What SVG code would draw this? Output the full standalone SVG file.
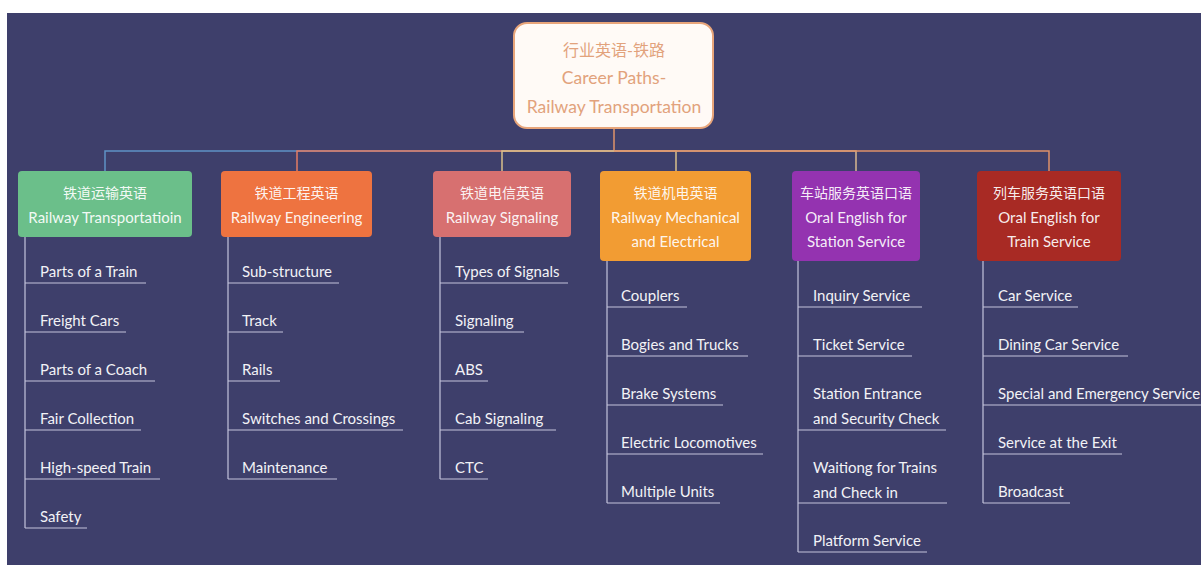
<svg xmlns="http://www.w3.org/2000/svg" width="1201" height="565" viewBox="0 0 1201 565">
<style>
  text { font-family: Lato, "Noto Sans CJK SC", sans-serif; }
  .root-t { font-size: 17.5px; fill: #e2a27c; text-anchor: middle; }
  .root-cn { font-size: 16px; }
  .br-t { font-size: 15px; fill: #ffffff; fill-opacity: 0.93; text-anchor: middle; }
  .br-cn { font-size: 14px; }
  .lf-t { font-size: 15px; fill: #f2f2f6; }
  .lf-l { stroke: #c4c4dc; stroke-width: 1.2; fill: none; }
  .conn { fill: none; stroke-width: 1.5; }
</style>
<rect x="0" y="0" width="1201" height="565" fill="#ffffff"/>
<rect x="7" y="13" width="1194" height="552" fill="#3e3f6b"/>

<g id="connectors">
  <path class="conn" d="M614,128 V151" stroke="#e0956a"/>
  <path class="conn" d="M614,151 H105 V171" stroke="#5f93c6"/>
  <path class="conn" d="M614,151 H297 V171" stroke="#e47c64"/>
  <path class="conn" d="M614,151 H502 V171" stroke="#d9c08a"/>
  <path class="conn" d="M614,151 H676 V171" stroke="#d9c08a"/>
  <path class="conn" d="M614,151 H856 V171" stroke="#d8b890"/>
  <path class="conn" d="M614,151 H1049 V171" stroke="#e0916a"/>
</g>

<g id="root">
  <rect x="514" y="23" width="199" height="105" rx="13" fill="#fffaf6" stroke="#e8a57a" stroke-width="2"/>
  <text class="root-t root-cn" x="614" y="56">行业英语-铁路</text>
  <text class="root-t" x="614" y="84">Career Paths-</text>
  <text class="root-t" x="614" y="113">Railway Transportation</text>
</g>

<g id="branch-transportation">
  <rect x="18" y="171" width="174" height="66" rx="4" fill="#6bbf8a"/>
  <text class="br-t br-cn" x="105" y="198">铁道运输英语</text>
  <text class="br-t" x="105" y="223">Railway Transportatioin</text>
  <path class="lf-l" d="M25,237 V528"/>
  <g id="leaf-1-1"><text class="lf-t" x="40" y="277">Parts of a Train</text><path class="lf-l" d="M25,283 H146"/></g>
  <g id="leaf-1-2"><text class="lf-t" x="40" y="326">Freight Cars</text><path class="lf-l" d="M25,332 H126"/></g>
  <g id="leaf-1-3"><text class="lf-t" x="40" y="375">Parts of a Coach</text><path class="lf-l" d="M25,381 H155"/></g>
  <g id="leaf-1-4"><text class="lf-t" x="40" y="424">Fair Collection</text><path class="lf-l" d="M25,430 H141"/></g>
  <g id="leaf-1-5"><text class="lf-t" x="40" y="473">High-speed Train</text><path class="lf-l" d="M25,479 H160"/></g>
  <g id="leaf-1-6"><text class="lf-t" x="40" y="522">Safety</text><path class="lf-l" d="M25,528 H87"/></g>
</g>

<g id="branch-engineering">
  <rect x="221" y="171" width="151" height="66" rx="4" fill="#ee7340"/>
  <text class="br-t br-cn" x="296.5" y="198">铁道工程英语</text>
  <text class="br-t" x="296.5" y="223">Railway Engineering</text>
  <path class="lf-l" d="M228,237 V479"/>
  <g id="leaf-2-1"><text class="lf-t" x="242" y="277">Sub-structure</text><path class="lf-l" d="M228,283 H339"/></g>
  <g id="leaf-2-2"><text class="lf-t" x="242" y="326">Track</text><path class="lf-l" d="M228,332 H283"/></g>
  <g id="leaf-2-3"><text class="lf-t" x="242" y="375">Rails</text><path class="lf-l" d="M228,381 H280"/></g>
  <g id="leaf-2-4"><text class="lf-t" x="242" y="424">Switches and Crossings</text><path class="lf-l" d="M228,430 H403"/></g>
  <g id="leaf-2-5"><text class="lf-t" x="242" y="473">Maintenance</text><path class="lf-l" d="M228,479 H337"/></g>
</g>

<g id="branch-signaling">
  <rect x="433" y="171" width="138" height="66" rx="4" fill="#d77070"/>
  <text class="br-t br-cn" x="502" y="198">铁道电信英语</text>
  <text class="br-t" x="502" y="223">Railway Signaling</text>
  <path class="lf-l" d="M440,237 V479"/>
  <g id="leaf-3-1"><text class="lf-t" x="455" y="277">Types of Signals</text><path class="lf-l" d="M440,283 H568"/></g>
  <g id="leaf-3-2"><text class="lf-t" x="455" y="326">Signaling</text><path class="lf-l" d="M440,332 H524"/></g>
  <g id="leaf-3-3"><text class="lf-t" x="455" y="375">ABS</text><path class="lf-l" d="M440,381 H488"/></g>
  <g id="leaf-3-4"><text class="lf-t" x="455" y="424">Cab Signaling</text><path class="lf-l" d="M440,430 H556"/></g>
  <g id="leaf-3-5"><text class="lf-t" x="455" y="473">CTC</text><path class="lf-l" d="M440,479 H488"/></g>
</g>

<g id="branch-mechanical">
  <rect x="600" y="171" width="151" height="90" rx="4" fill="#f29c33"/>
  <text class="br-t br-cn" x="675.5" y="198">铁道机电英语</text>
  <text class="br-t" x="675.5" y="223">Railway Mechanical</text>
  <text class="br-t" x="675.5" y="247">and Electrical</text>
  <path class="lf-l" d="M607,261 V503"/>
  <g id="leaf-4-1"><text class="lf-t" x="621" y="301">Couplers</text><path class="lf-l" d="M607,307 H687"/></g>
  <g id="leaf-4-2"><text class="lf-t" x="621" y="350">Bogies and Trucks</text><path class="lf-l" d="M607,356 H748"/></g>
  <g id="leaf-4-3"><text class="lf-t" x="621" y="399">Brake Systems</text><path class="lf-l" d="M607,405 H723"/></g>
  <g id="leaf-4-4"><text class="lf-t" x="621" y="448">Electric Locomotives</text><path class="lf-l" d="M607,454 H763"/></g>
  <g id="leaf-4-5"><text class="lf-t" x="621" y="497">Multiple Units</text><path class="lf-l" d="M607,503 H720"/></g>
</g>

<g id="branch-station">
  <rect x="792" y="171" width="128" height="90" rx="4" fill="#9433b0"/>
  <text class="br-t br-cn" x="856" y="198">车站服务英语口语</text>
  <text class="br-t" x="856" y="223">Oral English for</text>
  <text class="br-t" x="856" y="247">Station Service</text>
  <path class="lf-l" d="M798,261 V552"/>
  <g id="leaf-5-1"><text class="lf-t" x="813" y="301">Inquiry Service</text><path class="lf-l" d="M798,307 H922"/></g>
  <g id="leaf-5-2"><text class="lf-t" x="813" y="350">Ticket Service</text><path class="lf-l" d="M798,356 H912"/></g>
  <g id="leaf-5-3"><text class="lf-t" x="813" y="399">Station Entrance</text><text class="lf-t" x="813" y="424">and Security Check</text><path class="lf-l" d="M798,430 H946"/></g>
  <g id="leaf-5-4"><text class="lf-t" x="813" y="473">Waitiong for Trains</text><text class="lf-t" x="813" y="498">and Check in</text><path class="lf-l" d="M798,503 H947"/></g>
  <g id="leaf-5-5"><text class="lf-t" x="813" y="546">Platform Service</text><path class="lf-l" d="M798,552 H927"/></g>
</g>

<g id="branch-train">
  <rect x="977" y="171" width="144" height="90" rx="4" fill="#a82a24"/>
  <text class="br-t br-cn" x="1049" y="198">列车服务英语口语</text>
  <text class="br-t" x="1049" y="223">Oral English for</text>
  <text class="br-t" x="1049" y="247">Train Service</text>
  <path class="lf-l" d="M983,261 V503"/>
  <g id="leaf-6-1"><text class="lf-t" x="998" y="301">Car Service</text><path class="lf-l" d="M983,307 H1078"/></g>
  <g id="leaf-6-2"><text class="lf-t" x="998" y="350">Dining Car Service</text><path class="lf-l" d="M983,356 H1128"/></g>
  <g id="leaf-6-3"><text class="lf-t" x="998" y="399">Special and Emergency Service</text><path class="lf-l" d="M983,405 H1201"/></g>
  <g id="leaf-6-4"><text class="lf-t" x="998" y="448">Service at the Exit</text><path class="lf-l" d="M983,454 H1122"/></g>
  <g id="leaf-6-5"><text class="lf-t" x="998" y="497">Broadcast</text><path class="lf-l" d="M983,503 H1070"/></g>
</g>
</svg>
